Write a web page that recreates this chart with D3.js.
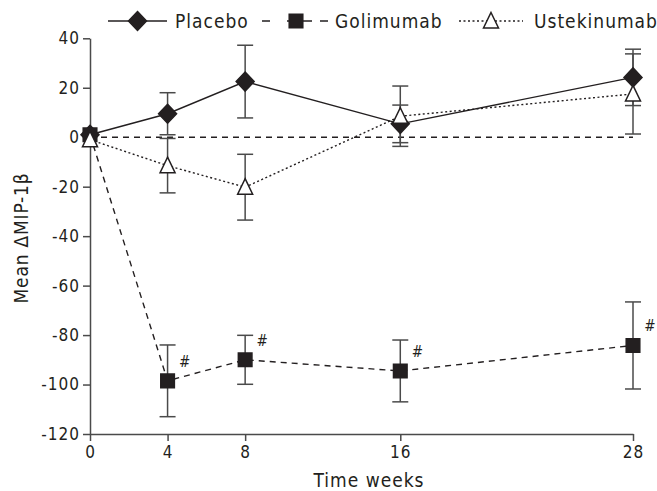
<!DOCTYPE html>
<html lang="en">
<head>
<meta charset="UTF-8">
<title>Mean MIP-1b</title>
<style>
  body { margin: 0; background: #fff; }
  text { font-family: "DejaVu Sans Condensed", "DejaVu Sans", sans-serif; fill: #231f20; }
</style>
</head>
<body>
<script src="https://d3js.org/d3.v7.min.js"></script>
<script>
    // values
    const weeks = [0, 4, 8, 16, 28];
    const placeboMean = [1, 9.5, 22.5, 5.4, 24.2];
    const placeboErr = [0, 8.5, 14.7, 7.6, 11.4];
    const golimumabMean = [1, -98.5, -90, -94.5, -84.2];
    const golimumabErr = [0, 14.5, 9.9, 12.5, 17.6];
    const ustekinumabMean = [-1, -11.5, -20.2, 8.5, 17.5];
    const ustekinumabErr = [0, 11, 13.3, 12.2, 16.2];
    const sigWeeks = [4, 8, 16, 28];   // "#" marks on golimumab
    const yTicks = [-120, -100, -80, -60, -40, -20, 0, 20, 40];

    const width = 657, height = 491;
    const ink = "#231f20", axisCol = "#4a4a4a";
    const font = '"DejaVu Sans Condensed", "DejaVu Sans", sans-serif';

    const svg = d3.select("body").append("svg")
        .attr("width", width)
        .attr("height", height);

    const x = d3.scaleLinear().domain([0, 28]).range([90, 633]);
    const y = d3.scaleLinear().domain([-120, 40]).range([434, 38.3]);

    // axes
    const yAxis = svg.append("g")
        .attr("transform", "translate(90,0)")
        .call(d3.axisLeft(y).tickValues(yTicks).tickSizeOuter(0).tickSizeInner(7).tickPadding(3)
            .tickFormat(d => String(d)));
    const xAxis = svg.append("g")
        .attr("transform", "translate(0,434)")
        .call(d3.axisBottom(x).tickValues(weeks).tickSizeOuter(0).tickSizeInner(7).tickPadding(5)
            .tickFormat(d => String(d)));
    [yAxis, xAxis].forEach(g => {
        g.selectAll("path, line").attr("stroke", axisCol).attr("stroke-width", 1.5);
        g.selectAll("text").attr("font-size", 17).attr("fill", ink)
            .attr("letter-spacing", 1)
            .style("font-family", font);
    });

    svg.append("text")
        .attr("transform", "translate(28,238) rotate(-90)")
        .attr("text-anchor", "middle")
        .attr("font-size", 19)
        .attr("letter-spacing", 0.8)
        .text("Mean \u0394MIP-1\u03b2");
    svg.append("text")
        .attr("x", 369).attr("y", 487)
        .attr("text-anchor", "middle")
        .attr("font-size", 19)
        .attr("letter-spacing", 1)
        .text("Time weeks");

    // zero reference line
    svg.append("line")
        .attr("x1", x(0)).attr("x2", x(28))
        .attr("y1", y(0)).attr("y2", y(0))
        .attr("stroke", ink).attr("stroke-width", 1.3)
        .attr("stroke-dasharray", "6,5");

    const series = [
        {name: "Placebo", mean: placeboMean, err: placeboErr, dash: null, legendDash: null, marker: "diamond"},
        {name: "Golimumab", mean: golimumabMean, err: golimumabErr, dash: "6,5", legendDash: "8,17,25,8,8", marker: "square"},
        {name: "Ustekinumab", mean: ustekinumabMean, err: ustekinumabErr, dash: "2,2.5", legendDash: "2,2.5", marker: "triangle"}
    ];

    function markerPath(type) {
        if (type === "diamond") return "M0,-9.5L9,0L0,9.5L-9,0Z";
        if (type === "square") return "M-6.8,-6.8H6.8V6.8H-6.8Z";
        return "M0,-8.5L7.5,7L-7.5,7Z";
    }
    function markerFill(type) { return type === "triangle" ? "#fff" : ink; }

    const line = d3.line().x(d => x(d.w)).y(d => y(d.m));

    // error bars and lines first, markers on top
    series.forEach(s => {
        const pts = weeks.map((w, i) => ({w: w, m: s.mean[i], e: s.err[i]}));
        const g = svg.append("g");
        pts.filter(d => d.e > 0).forEach(d => {
            g.append("line")
                .attr("x1", x(d.w)).attr("x2", x(d.w))
                .attr("y1", y(d.m - d.e)).attr("y2", y(d.m + d.e))
                .attr("stroke", axisCol).attr("stroke-width", 1.5);
            [d.m - d.e, d.m + d.e].forEach(v => {
                g.append("line")
                    .attr("x1", x(d.w) - 8).attr("x2", x(d.w) + 8)
                    .attr("y1", y(v)).attr("y2", y(v))
                    .attr("stroke", axisCol).attr("stroke-width", 1.5);
            });
        });
        g.append("path")
            .datum(pts)
            .attr("fill", "none")
            .attr("stroke", ink)
            .attr("stroke-width", 1.4)
            .attr("stroke-dasharray", s.dash)
            .attr("d", line);
        s.pts = pts;
    });

    series.forEach(s => {
        svg.append("g").selectAll("path")
            .data(s.pts)
            .enter().append("path")
            .attr("transform", d => `translate(${x(d.w)},${y(d.m)})`)
            .attr("d", markerPath(s.marker))
            .attr("fill", markerFill(s.marker))
            .attr("stroke", ink)
            .attr("stroke-width", 1.5)
            .attr("stroke-linejoin", "miter");
    });

    // significance marks
    svg.append("g").selectAll("text")
        .data(sigWeeks)
        .enter().append("text")
        .attr("x", d => x(d) + 17)
        .attr("y", d => y(golimumabMean[weeks.indexOf(d)]) - 14)
        .attr("text-anchor", "middle")
        .attr("font-size", 15)
        .text("#");

    // legend
    const legendItems = [
        {s: series[0], x1: 108, x2: 167, label: 175},
        {s: series[1], x1: 262, x2: 330, label: 335},
        {s: series[2], x1: 459, x2: 523, label: 534}
    ];
    legendItems.forEach(it => {
        const g = svg.append("g");
        g.append("line")
            .attr("x1", it.x1).attr("x2", it.x2)
            .attr("y1", 21).attr("y2", 21)
            .attr("stroke", ink).attr("stroke-width", 1.4)
            .attr("stroke-dasharray", it.s.legendDash);
        g.append("path")
            .attr("transform", `translate(${(it.x1 + it.x2) / 2},21)`)
            .attr("d", markerPath(it.s.marker))
            .attr("fill", markerFill(it.s.marker))
            .attr("stroke", ink).attr("stroke-width", 1.5);
        g.append("text")
            .attr("x", it.label).attr("y", 28)
            .attr("font-size", 19)
            .attr("letter-spacing", 1)
            .text(it.s.name);
    });
</script>
</body>
</html>
